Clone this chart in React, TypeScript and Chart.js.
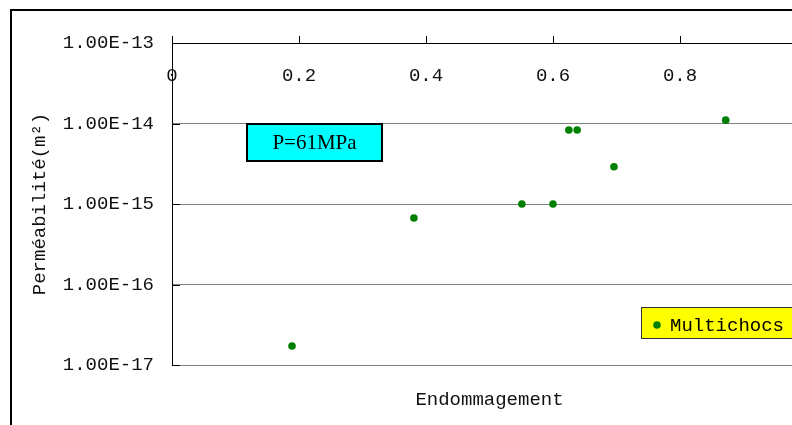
import React, { useEffect, useRef } from "react";
import { Chart, registerables } from "chart.js";

Chart.register(...registerables);

// ---- data ----
const damage = [0.189, 0.381, 0.551, 0.6, 0.625, 0.638, 0.696, 0.872];
const permeability = [1.72e-17, 6.7e-16, 1.0e-15, 1.0e-15, 8.3e-15, 8.3e-15, 2.9e-15, 1.1e-14];
const yTickValues = [1e-17, 1e-16, 1e-15, 1e-14, 1e-13];
const xTickValues = [0, 0.2, 0.4, 0.6, 0.8, 1];
const seriesLabel = "Multichocs";
const pressureLabel = "P=61MPa";
const xTitle = "Endommagement";
const yTitle = "Perméabilité(m²)";

const AXIS_FONT = "'Liberation Mono', monospace";

const framePlugin = {
  id: "frame",
  beforeDraw(chart: any) {
    const { ctx } = chart;
    ctx.save();
    ctx.strokeStyle = "#000";
    ctx.lineWidth = 2;
    ctx.strokeRect(11, 10, chart.width + 50, chart.height + 50);
    ctx.restore();
  },
  afterDraw(chart: any) {
    const { ctx, chartArea } = chart;
    const ys = chart.scales.y;
    ctx.save();
    // pressure text box
    const bx = 247, by = 124, bw = 135, bh = 37;
    ctx.fillStyle = "#00FFFF";
    ctx.fillRect(bx, by, bw, bh);
    ctx.strokeStyle = "#000";
    ctx.lineWidth = 2;
    ctx.strokeRect(bx, by, bw, bh);
    ctx.fillStyle = "#000";
    ctx.font = "21px 'Liberation Serif', serif";
    ctx.textAlign = "center";
    ctx.textBaseline = "middle";
    ctx.fillText(pressureLabel, bx + bw / 2, by + bh / 2 + 1);

    // legend box
    const lx = 641.5, ly = 307.5, lw = 200, lh = 31;
    ctx.fillStyle = "#FFFF00";
    ctx.fillRect(lx, ly, lw, lh);
    ctx.strokeStyle = "#333";
    ctx.lineWidth = 1;
    ctx.strokeRect(lx, ly, lw, lh);
    ctx.fillStyle = "#008000";
    ctx.beginPath();
    ctx.arc(657, 325, 3.8, 0, Math.PI * 2);
    ctx.fill();
    ctx.fillStyle = "#000";
    ctx.font = "19px " + AXIS_FONT;
    ctx.textAlign = "left";
    ctx.textBaseline = "middle";
    ctx.fillText(chart.data.datasets[0].label, 670, 326);

    // inside tick marks on y axis
    ctx.strokeStyle = "#000";
    ctx.lineWidth = 1;
    yTickValues.forEach((v) => {
      const py = Math.round(ys.getPixelForValue(v)) + 0.5;
      ctx.beginPath();
      ctx.moveTo(chartArea.left, py);
      ctx.lineTo(chartArea.left + 8, py);
      ctx.stroke();
    });
    ctx.restore();
  },
};

export default function App() {
  const ref = useRef<HTMLCanvasElement | null>(null);

  useEffect(() => {
    if (!ref.current) return;
    const chart = new Chart(ref.current, {
      type: "scatter",
      data: {
        datasets: [
          {
            label: seriesLabel,
            data: damage.map((d, i) => ({ x: d, y: permeability[i] })),
            backgroundColor: "#008000",
            borderColor: "#008000",
            borderWidth: 0,
            pointRadius: 3.8,
          },
        ],
      },
      options: {
        animation: false,
        responsive: false,
        layout: { padding: { left: 20, right: 33, top: 0, bottom: 28.6 } },
        plugins: {
          legend: { display: false },
          tooltip: { enabled: false },
          title: {
            display: true,
            position: "bottom",
            fullSize: false,
            text: xTitle,
            color: "#111",
            font: { family: AXIS_FONT, size: 19, weight: "normal" },
            padding: { top: 23.6, bottom: 0 },
          },
        },
        scales: {
          x: {
            type: "linear",
            position: "top",
            min: 0,
            max: 1,
            afterBuildTicks: (s: any) => {
              s.ticks = xTickValues.map((v) => ({ value: v }));
            },
            afterFit: (s: any) => {
              s.height = 43;
            },
            afterUpdate: (s: any) => {
              // labels sit below the top axis line, so do not clip them to the axis box
              s._computeLabelArea = () => undefined;
            },
            ticks: {
              padding: -51,
              color: "#111",
              maxRotation: 0,
              autoSkip: false,
              font: { family: AXIS_FONT, size: 19 },
              callback: (v: any) => String(Math.round(Number(v) * 10) / 10),
            },
            grid: {
              display: true,
              drawOnChartArea: false,
              drawTicks: true,
              tickLength: 7,
              color: "#000",
            },
            border: { display: true, color: "#000", width: 1 },
          },
          y: {
            type: "logarithmic",
            min: 1e-17,
            max: 1e-13,
            afterBuildTicks: (s: any) => {
              s.ticks = yTickValues.map((v) => ({ value: v, major: true }));
            },
            afterFit: (s: any) => {
              s.width = 152;
            },
            ticks: {
              padding: 18,
              color: "#111",
              autoSkip: false,
              font: { family: AXIS_FONT, size: 19 },
              callback: (v: any) => Number(v).toExponential(2).toUpperCase(),
            },
            grid: {
              drawTicks: false,
              color: (c: any) => (c.tick && c.tick.value === 1e-13 ? "#000" : "#808080"),
              lineWidth: 1,
            },
            border: { display: true, color: "#000", width: 1 },
            title: {
              display: true,
              text: yTitle,
              color: "#111",
              font: { family: AXIS_FONT, size: 19 },
              padding: { top: 9, bottom: 0 },
            },
          },
        },
      },
      plugins: [framePlugin],
    } as any);
    return () => chart.destroy();
  }, []);

  return (
    <div
      style={{
        position: "fixed",
        left: 0,
        top: 0,
        width: 792,
        height: 425,
        overflow: "hidden",
        background: "#fff",
      }}
    >
      <canvas ref={ref} width={840} height={440} style={{ width: 840, height: 440, display: "block" }} />
    </div>
  );
}
